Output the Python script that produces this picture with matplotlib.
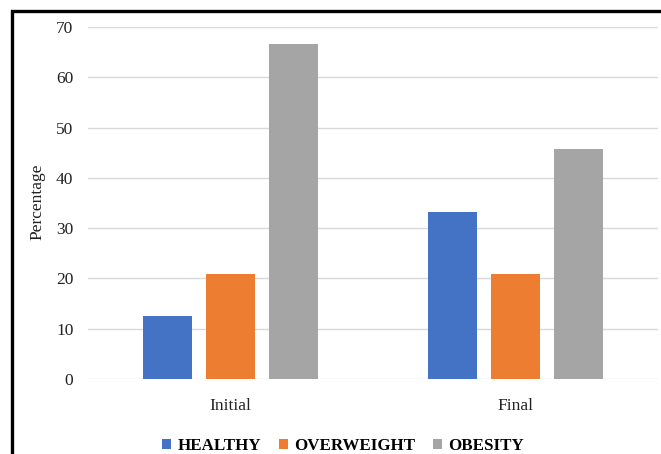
import numpy as np
import matplotlib
matplotlib.use("Agg")
import matplotlib.pyplot as plt
from matplotlib.patches import Rectangle

# data
categories = ["Initial", "Final"]
series = ["HEALTHY", "OVERWEIGHT", "OBESITY"]
healthy = [12.5, 33.3]
overweight = [20.8, 20.8]
obesity = [66.7, 45.8]
colors = ["#4472C4", "#ED7D31", "#A5A5A5"]

plt.rcParams['font.family'] = ['Liberation Serif', 'DejaVu Serif']

W, H = 661, 454
fig = plt.figure(figsize=(W / 100, H / 100), dpi=100)
ax = fig.add_axes([88 / W, 1 - 379 / H, 570 / W, 352 / H])

x = np.arange(len(categories))
width = 0.172
step = 0.221
for i, (name, vals) in enumerate(zip(series, [healthy, overweight, obesity])):
    ax.bar(x + (i - 1) * step, vals, width, color=colors[i], label=name, zorder=3)

ax.set_xlim(-0.5, 1.5)
ax.set_ylim(0, 70)
ax.set_yticks(range(0, 71, 10))
ax.set_xticks(x)
ax.set_xticklabels(categories)
ax.grid(axis='y', color='#d9d9d9', linewidth=1, zorder=0)
for s in ax.spines.values():
    s.set_visible(False)
ax.tick_params(axis='y', length=0, labelsize=12.5, colors='#222222', pad=10.5)
ax.tick_params(axis='x', length=0, labelsize=12.5, colors='#222222', pad=14)
ax.set_ylabel("Percentage", fontsize=12.5, color='#222222')
ax.yaxis.set_label_coords(-0.075, 0.503)

leg = ax.legend(loc='center', bbox_to_anchor=(0.447, -0.19), ncol=3, frameon=False,
                prop={'weight': 'bold', 'size': 12.2}, handlelength=0.55, handleheight=0.55,
                handletextpad=0.35, columnspacing=1.05)

# outer black frame (cut off at right and bottom)
fig.patches.append(Rectangle((12 / W, -0.1), 1.2, 1 - 11 / H + 0.1, transform=fig.transFigure,
                             fill=False, edgecolor='black', linewidth=2.4))

fig.savefig("out.png", dpi=100)
